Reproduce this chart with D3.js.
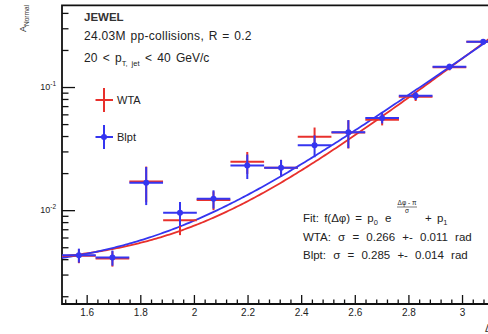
<!DOCTYPE html>
<html>
<head>
<meta charset="utf-8">
<script src="https://cdn.jsdelivr.net/npm/d3@7/dist/d3.min.js"></script>
<style>
  html, body { margin: 0; padding: 0; background: #fff; overflow: hidden; }
  svg { display: block; font-family: "Liberation Sans", Arial, sans-serif; }
</style>
</head>
<body>
<svg id="chart" width="488" height="334"></svg>
<script>
// Bin centres in delta-phi (rad) and half bin width
const binCenters = [1.571, 1.696, 1.822, 1.948, 2.073, 2.199, 2.325, 2.450, 2.576, 2.702, 2.827, 2.953, 3.079];
const binHalfWidth = 0.0628;

// WTA axis (red)
const wtaValues = [0.00426, 0.00406, 0.0171, 0.00827, 0.0121, 0.0247, 0.0221, 0.0394, 0.0427, 0.0543, 0.0835, 0.145, 0.233];
const wtaErrors = [0.00055, 0.00058, 0.0055, 0.0020, 0.0021, 0.0050, 0.0035, 0.0075, 0.0110, 0.0055, 0.0065, 0.0085, 0.011];

// Blpt axis (blue)
const blptValues = [0.00431, 0.00412, 0.0167, 0.00955, 0.0124, 0.0231, 0.0221, 0.0337, 0.0429, 0.0561, 0.0850, 0.146, 0.233];
const blptErrors = [0.00056, 0.00058, 0.0057, 0.0021, 0.0021, 0.0052, 0.0035, 0.0068, 0.0110, 0.0055, 0.0065, 0.0085, 0.011];

// Exponential fit parameters: f = p0 * exp((dphi - pi)/sigma) + p1
const fitWTA  = { p0: 0.283, p1: 0.0036, sigma: 0.266 };
const fitBlpt = { p0: 0.275, p1: 0.0032, sigma: 0.285 };

// Axis ticks
const xMajorTicks = [1.6, 1.8, 2.0, 2.2, 2.4, 2.6, 2.8, 3.0];
const xTickLabels = ["1.6", "1.8", "2", "2.2", "2.4", "2.6", "2.8", "3"];
const yMajorTicks = [0.01, 0.1];
const yTickExponents = ["-2", "-1"];

const RED = "#e8302c";
const BLUE = "#3535f0";

const svg = d3.select("#chart");
const plotLeft = 62, plotTop = 5.3, plotRight = 500, plotBottom = 304;

const x = d3.scaleLinear().domain([12 * Math.PI / 25, Math.PI]).range([plotLeft, plotRight]);
const y = d3.scaleLog().domain([0.00173, 0.461]).range([plotBottom, plotTop]);

// minor ticks
const xMinor = d3.range(1.52, 3.14, 0.04).filter(v => !xMajorTicks.some(t => Math.abs(t - v) < 1e-6));
const yMinor = [];
[0.001, 0.01, 0.1].forEach(d => { for (let k = 2; k <= 9; k++) { const v = k * d; if (v > 0.00173 && v < 0.461) yMinor.push(v); } });

// x axis
const xAxis = svg.append("g").attr("transform", `translate(0,${plotBottom})`)
  .call(d3.axisBottom(x).tickValues(xMajorTicks).tickSizeInner(-9).tickSizeOuter(0).tickPadding(5)
    .tickFormat((d, i) => xTickLabels[i]));
svg.append("g").attr("transform", `translate(0,${plotBottom})`)
  .call(d3.axisBottom(x).tickValues(xMinor).tickSizeInner(-4.5).tickSizeOuter(0).tickFormat(""));

// y axis
svg.append("g").attr("transform", `translate(${plotLeft},0)`)
  .call(d3.axisLeft(y).tickValues(yMajorTicks).tickSizeInner(-13).tickSizeOuter(0).tickFormat(""));
svg.append("g").attr("transform", `translate(${plotLeft},0)`)
  .call(d3.axisLeft(y).tickValues(yMinor).tickSizeInner(-6.5).tickSizeOuter(0).tickFormat(""));

svg.selectAll(".domain").remove();
svg.selectAll(".tick line").attr("stroke", "#111").attr("stroke-width", 1.3);
xAxis.selectAll(".tick text").attr("font-size", 10).attr("fill", "#222")
  .attr("font-family", "Liberation Sans, Arial, sans-serif");

// y tick labels 10^n
yMajorTicks.forEach((v, i) => {
  const t = svg.append("text").attr("x", 56).attr("y", y(v) + 3).attr("text-anchor", "end")
    .attr("font-size", 9).attr("fill", "#222");
  t.append("tspan").text("10");
  t.append("tspan").attr("font-size", 6.5).attr("dy", -4.5).text(yTickExponents[i]);
});

// frame
svg.append("path")
  .attr("d", `M${plotLeft},${plotBottom}L${plotLeft},${plotTop}L${plotRight},${plotTop}L${plotRight},${plotBottom}Z`)
  .attr("fill", "none").attr("stroke", "#111").attr("stroke-width", 1.8);

// axis titles
const yTitle = svg.append("text").attr("transform", `translate(26,5) rotate(-90)`)
  .attr("text-anchor", "end").attr("font-size", 9).attr("fill", "#333");
yTitle.append("tspan").text("A");
yTitle.append("tspan").attr("font-size", 6.5).attr("dy", 2.5).text("Normal");
svg.append("text").attr("x", 485).attr("y", 332).attr("font-size", 10).attr("fill", "#333").text("Δφ (rad)");

// fit curves
const plot = svg.append("g");
const xs = d3.range(0, 201).map(i => x.domain()[0] + (x.domain()[1] - x.domain()[0]) * i / 200);
const line = d3.line().x(d => x(d[0])).y(d => y(d[1]));
function fitPts(f) { return xs.map(v => [v, f.p0 * Math.exp((v - Math.PI) / f.sigma) + f.p1]); }
plot.append("path").attr("d", line(fitPts(fitWTA))).attr("fill", "none").attr("stroke", RED).attr("stroke-width", 1.8);
plot.append("path").attr("d", line(fitPts(fitBlpt))).attr("fill", "none").attr("stroke", BLUE).attr("stroke-width", 1.8);

// data points with error bars
function drawSeries(vals, errs, color, marker) {
  const g = plot.append("g");
  binCenters.forEach((c, i) => {
    const v = vals[i], e = errs[i];
    g.append("line").attr("x1", x(c - binHalfWidth)).attr("x2", x(c + binHalfWidth))
      .attr("y1", y(v)).attr("y2", y(v)).attr("stroke", color).attr("stroke-width", 2);
    g.append("line").attr("x1", x(c)).attr("x2", x(c))
      .attr("y1", y(v + e)).attr("y2", y(Math.max(v - e, 1e-5))).attr("stroke", color).attr("stroke-width", 2);
    if (marker) g.append("circle").attr("cx", x(c)).attr("cy", y(v)).attr("r", 3).attr("fill", color);
  });
}
drawSeries(wtaValues, wtaErrors, RED, false);
drawSeries(blptValues, blptErrors, BLUE, true);

// header text
const txt = (xx, yy, s, size) => svg.append("text").attr("x", xx).attr("y", yy)
  .attr("font-size", size).attr("fill", "#222").text(s);
txt(84, 21, "JEWEL", 11.5).attr("font-weight", "bold").attr("fill", "#333");
txt(84, 40, "24.03M pp-collisions, R = 0.2", 12).attr("letter-spacing", 0.3).attr("word-spacing", 1);
const pt = svg.append("text").attr("x", 84).attr("y", 62).attr("font-size", 12).attr("fill", "#222")
  .attr("word-spacing", 2);
pt.append("tspan").text("20 < p");
pt.append("tspan").attr("font-size", 7.5).attr("dy", 4).text("T, jet");
pt.append("tspan").attr("dy", -4).text(" < 40 GeV/c");

// legend
function legendEntry(cy, color, label, marker) {
  svg.append("line").attr("x1", 95.5).attr("x2", 113).attr("y1", cy).attr("y2", cy).attr("stroke", color).attr("stroke-width", 2);
  svg.append("line").attr("x1", 104).attr("x2", 104).attr("y1", cy - 12).attr("y2", cy + 12).attr("stroke", color).attr("stroke-width", 2);
  if (marker) svg.append("circle").attr("cx", 104).attr("cy", cy).attr("r", 3).attr("fill", color);
  txt(117, cy + 4, label, 11);
}
legendEntry(100, RED, "WTA", false);
legendEntry(137, BLUE, "Blpt", true);

// fit annotation
const fit = svg.append("text").attr("x", 303).attr("y", 222).attr("font-size", 11.5).attr("fill", "#222")
  .attr("word-spacing", 2);
fit.append("tspan").text("Fit: f(Δφ) = p");
fit.append("tspan").attr("font-size", 7.5).attr("dy", 3).text("0");
fit.append("tspan").attr("dy", -3).attr("x", 385).text("e");
fit.append("tspan").attr("x", 425).text("+ p");
fit.append("tspan").attr("font-size", 7.5).attr("dy", 3).text("1");
svg.append("text").attr("x", 407).attr("y", 205).attr("font-size", 6.5).attr("text-anchor", "middle").attr("fill", "#222").text("Δφ - π");
svg.append("line").attr("x1", 397).attr("x2", 417).attr("y1", 207).attr("y2", 207).attr("stroke", "#222").attr("stroke-width", 0.6);
svg.append("text").attr("x", 407).attr("y", 213).attr("font-size", 6.5).attr("text-anchor", "middle").attr("fill", "#222").text("σ");
txt(303, 241, "WTA: σ = 0.266 +- 0.011 rad", 11.5).attr("word-spacing", 4);
txt(303, 259, "Blpt:  σ = 0.285 +- 0.014 rad", 11.5).attr("word-spacing", 4);
</script>
</body>
</html>
